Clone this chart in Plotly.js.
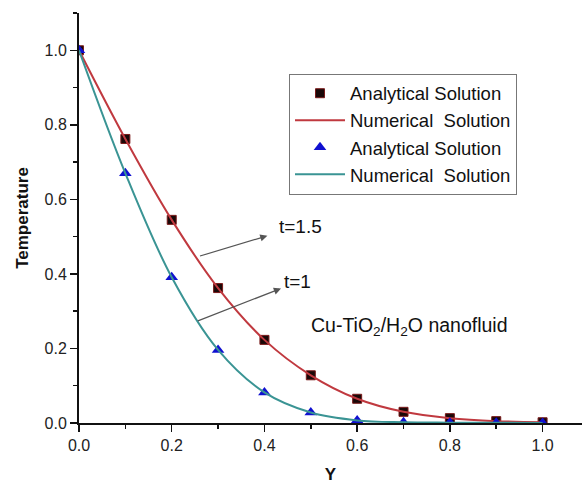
<!DOCTYPE html>
<html>
<head>
<meta charset="utf-8">
<script src="https://cdn.plot.ly/plotly-3.0.1.min.js"></script>
<style>html,body{margin:0;padding:0;background:#fff;}#chart{width:582px;height:484px;}</style>
</head>
<body>
<div id="chart"></div>
<script>
const yPos = [0, 0.1, 0.2, 0.3, 0.4, 0.5, 0.6, 0.7, 0.8, 0.9, 1.0];
const analyticT15 = [1.0, 0.762, 0.545, 0.362, 0.223, 0.128, 0.065, 0.030, 0.013, 0.005, 0.002];
const numericT15  = [1.0, 0.762, 0.545, 0.362, 0.223, 0.128, 0.065, 0.030, 0.013, 0.005, 0.002];
const analyticT1  = [1.0, 0.670, 0.391, 0.196, 0.082, 0.028, 0.007, 0.002, 0.001, 0.0005, 0.0002];
const numericT1   = [1.0, 0.670, 0.391, 0.196, 0.082, 0.028, 0.007, 0.002, 0.001, 0.0005, 0.0002];
const legendNames = ["Analytical Solution", "Numerical\u00a0 Solution", "Analytical Solution", "Numerical\u00a0 Solution"];

const red = "#c0393f";
const teal = "#3a9494";
const fam = "Liberation Sans, Arial, sans-serif";

const traces = [
  {x: yPos, y: analyticT15, mode: "markers", name: legendNames[0],
   marker: {symbol: "square", size: 9, color: "#1a0808", line: {color: "#7a1a1a", width: 1}}},
  {x: yPos, y: numericT15, mode: "lines", name: legendNames[1],
   line: {color: red, width: 2, shape: "spline"}},
  {x: yPos, y: analyticT1, mode: "markers", name: legendNames[2],
   marker: {symbol: "triangle-up", size: 11, color: "#1010d0"}},
  {x: yPos, y: numericT1, mode: "lines", name: legendNames[3],
   line: {color: teal, width: 2, shape: "spline"}}
];

const tickFont = {family: fam, size: 16, color: "#222"};

const layout = {
  width: 582, height: 484,
  margin: {l: 79, r: 0, t: 13, b: 61},
  paper_bgcolor: "#fff", plot_bgcolor: "#fff",
  showlegend: true,
  legend: {x: 0.4175, y: 0.852, xanchor: "left", yanchor: "top",
    bordercolor: "#777", borderwidth: 1, bgcolor: "#fff",
    font: {family: fam, size: 18.5, color: "#111"},
    itemwidth: 50, tracegroupgap: 0},
  xaxis: {range: [0, 1.085], tickvals: [0, 0.2, 0.4, 0.6, 0.8, 1.0],
    ticktext: ["0.0", "0.2", "0.4", "0.6", "0.8", "1.0"],
    showgrid: false, zeroline: false, showline: true, linecolor: "#111", linewidth: 2,
    ticks: "outside", ticklen: 7, tickwidth: 1.5, tickcolor: "#111",
    minor: {dtick: 0.1, tick0: 0, ticks: "outside", ticklen: 4, tickwidth: 1.5, tickcolor: "#111"},
    tickfont: tickFont,
    title: {text: "<b>Y</b>", font: {family: fam, size: 17, color: "#111"}, standoff: 16}},
  yaxis: {range: [0, 1.1], tickvals: [0, 0.2, 0.4, 0.6, 0.8, 1.0],
    ticktext: ["0.0", "0.2", "0.4", "0.6", "0.8", "1.0"],
    showgrid: false, zeroline: false, showline: true, linecolor: "#111", linewidth: 2,
    ticks: "outside", ticklen: 7, tickwidth: 1.5, tickcolor: "#111",
    minor: {dtick: 0.1, tick0: 0, ticks: "outside", ticklen: 4, tickwidth: 1.5, tickcolor: "#111"},
    tickfont: tickFont,
    title: {text: "<b>Temperature</b>", font: {family: fam, size: 17, color: "#111"}, standoff: 12}},
  annotations: [
    {x: 0.261, y: 0.448, xref: "x", yref: "y", text: "t=1.5", showarrow: true,
     ax: 100, ay: -30, arrowside: "start", startarrowhead: 2, startarrowsize: 1.2,
     startstandoff: 10, arrowwidth: 1.2, arrowcolor: "#555",
     font: {family: fam, size: 19, color: "#111"}},
    {x: 0.2565, y: 0.274, xref: "x", yref: "y", text: "t=1", showarrow: true,
     ax: 100, ay: -39, arrowside: "start", startarrowhead: 2, startarrowsize: 1.2,
     startstandoff: 2, arrowwidth: 1.2, arrowcolor: "#555",
     font: {family: fam, size: 19, color: "#111"}},
    {x: 0.497, y: 0.259, xref: "x", yref: "y", text: "Cu-TiO<sub>2</sub>/H<sub>2</sub>O nanofluid", showarrow: false, xanchor: "left",
     font: {family: fam, size: 19.5, color: "#111"}}
  ]
};

Plotly.newPlot("chart", traces, layout, {displayModeBar: false, staticPlot: true});
</script>
</body>
</html>
